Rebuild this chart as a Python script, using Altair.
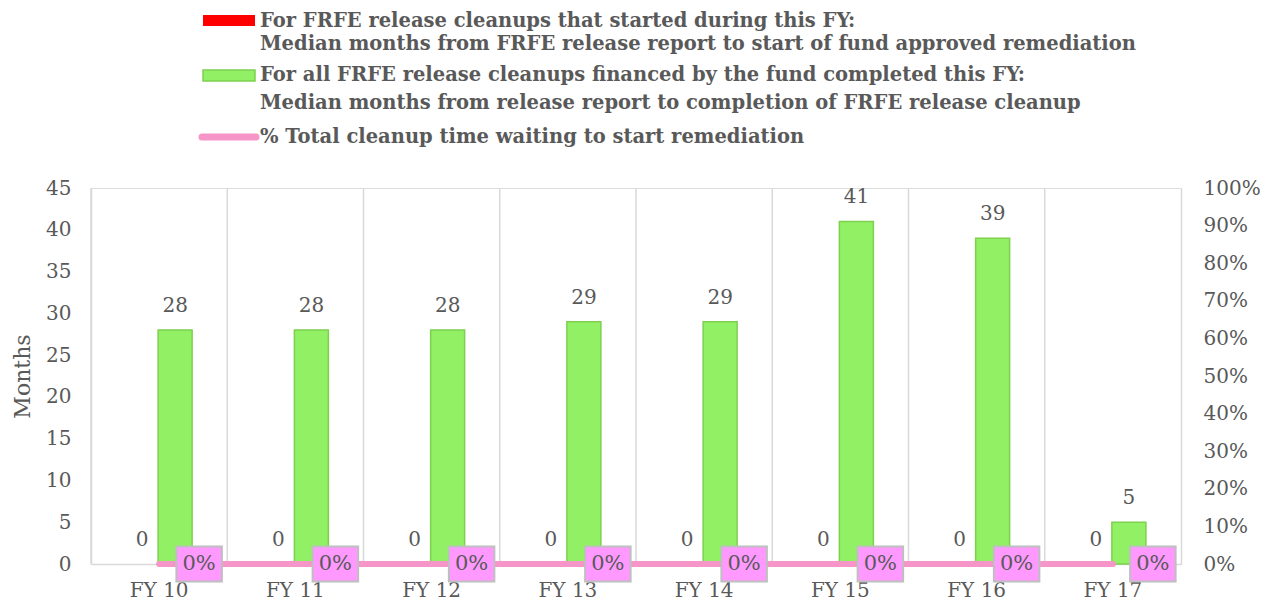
import altair as alt
import pandas as pd

# ---------------- data ----------------
years = ["FY 10", "FY 11", "FY 12", "FY 13", "FY 14", "FY 15", "FY 16", "FY 17"]
start_months = [0, 0, 0, 0, 0, 0, 0, 0]
complete_months = [28, 28, 28, 29, 29, 41, 39, 5]
pct_waiting = [0, 0, 0, 0, 0, 0, 0, 0]

left_ticks = [0, 5, 10, 15, 20, 25, 30, 35, 40, 45]
right_ticks = [0, 0.1, 0.2, 0.3, 0.4, 0.5, 0.6, 0.7, 0.8, 0.9, 1.0]

legend_red = ["For FRFE release cleanups that started during this FY:",
              "Median months from FRFE release report to start of fund approved remediation"]
legend_green = ["For all FRFE release cleanups financed by the fund completed this FY:",
                "Median months from release report to completion of FRFE release cleanup"]
legend_pink = ["% Total cleanup time waiting to start remediation"]

df = pd.DataFrame({"FY": years, "start": start_months,
                   "complete": complete_months, "pct": pct_waiting})

# ---------------- styling ----------------
W, H = 1090, 376
BAND = W / len(years)
GRAY = "#D9D9D9"
TXT = "#595959"
RED = "#FF0000"
GREEN = "#92F064"
GREEN_EDGE = "#7ED04F"
PINK = "#F595C8"
BOX = "#FF99FF"
FONT = "DejaVu Serif"

x = alt.X("FY:N", sort=years, title=None,
          scale=alt.Scale(domain=years, paddingInner=0, paddingOuter=0),
          axis=alt.Axis(domainColor=GRAY, domainWidth=1.5, ticks=False, grid=False,
                        labelFontSize=20, labelColor=TXT, labelPadding=16, labelAngle=0,
                        labelFont=FONT))


def yL(field):
    return alt.Y(f"{field}:Q", title="Months",
                 scale=alt.Scale(domain=[0, 45], nice=False),
                 axis=alt.Axis(values=left_ticks, ticks=False, grid=False,
                               domainColor=GRAY, domainWidth=1.5,
                               labelFontSize=20, labelColor=TXT, labelPadding=20,
                               labelFont=FONT,
                               titleFontSize=22, titleFontWeight="normal",
                               titleColor=TXT, titlePadding=11, titleFont=FONT))


yR = alt.Y("pct:Q", title=None,
           scale=alt.Scale(domain=[0, 1], nice=False),
           axis=alt.Axis(orient="right", format=".0%", values=right_ticks,
                         ticks=False, grid=False, domainColor=GRAY, domainWidth=1.5,
                         labelFontSize=20, labelColor=TXT, labelPadding=22,
                         labelFont=FONT))

base = alt.Chart(df)

grid = base.mark_rule(color=GRAY, strokeWidth=1.5, xOffset=-BAND / 2).encode(
    x=x, y=alt.value(0), y2=alt.value(H))

red_bars = base.mark_bar(color=RED, width=34, xOffset=-17).encode(x=x, y=yL("start"))
green_bars = base.mark_bar(fill=GREEN, stroke=GREEN_EDGE, strokeWidth=1.5,
                           width=34, xOffset=16).encode(x=x, y=yL("complete"))
red_txt = base.mark_text(font=FONT, fontSize=20, color=TXT, xOffset=-17, dy=-24,
                         baseline="middle").encode(x=x, y=yL("start"), text="start:Q")
green_txt = base.mark_text(font=FONT, fontSize=20, color=TXT, xOffset=16, dy=-24,
                           baseline="middle").encode(x=x, y=yL("complete"),
                                                     text="complete:Q")

left = alt.layer(grid, red_bars, green_bars, red_txt, green_txt)

line = base.mark_line(color=PINK, strokeWidth=6, strokeCap="round").encode(x=x, y=yR)
boxes = base.mark_point(shape="M-1.3,-1H1.3V1H-1.3Z", size=1225, filled=True,
                        fill=BOX, stroke="#BFBFBF", strokeWidth=2, opacity=1,
                        xOffset=40).encode(x=x, y=yR)
pct_txt = base.mark_text(font=FONT, fontSize=21, color=TXT, xOffset=40,
                         baseline="middle").encode(
    x=x, y=yR, text=alt.Text("pct:Q", format=".0%"))

right = alt.layer(line, boxes, pct_txt)

# ---------------- custom legend (above plot) ----------------
LX0, LX1, LT = 112, 164, 169  # swatch x range and text x (plot coords)


def legend_text(lines, ys):
    charts = []
    for t, yy in zip(lines, ys):
        charts.append(alt.Chart(pd.DataFrame({"t": [t]})).mark_text(
            font=FONT, fontSize=19.5, fontWeight="bold", color=TXT, align="left",
            baseline="middle").encode(text="t:N", x=alt.value(LT), y=alt.value(yy)))
    return charts


one = pd.DataFrame({"k": [0]})
leg = [
    alt.Chart(one).mark_rect(color=RED).encode(
        x=alt.value(LX0), x2=alt.value(LX1), y=alt.value(-173), y2=alt.value(-162)),
    alt.Chart(one).mark_rect(fill=GREEN, stroke=GREEN_EDGE, strokeWidth=1.5).encode(
        x=alt.value(LX0), x2=alt.value(LX1), y=alt.value(-118), y2=alt.value(-107)),
    alt.Chart(one).mark_rule(color=PINK, strokeWidth=7, strokeCap="round").encode(
        x=alt.value(LX0 - 1), x2=alt.value(LX1 + 1), y=alt.value(-51)),
]
leg += legend_text(legend_red, [-167, -144])
leg += legend_text(legend_green, [-113, -85])
leg += legend_text(legend_pink, [-51])

chart = alt.layer(left, right, *leg).resolve_scale(y="independent").properties(
    width=W, height=H,
    autosize=alt.AutoSizeParams(type="none"),
    padding={"left": 83, "top": 180, "right": 89, "bottom": 37},
).configure_view(stroke=None).configure(background="white", font=FONT)

chart.save("out.html", embed_options={"renderer": "svg", "actions": False})
